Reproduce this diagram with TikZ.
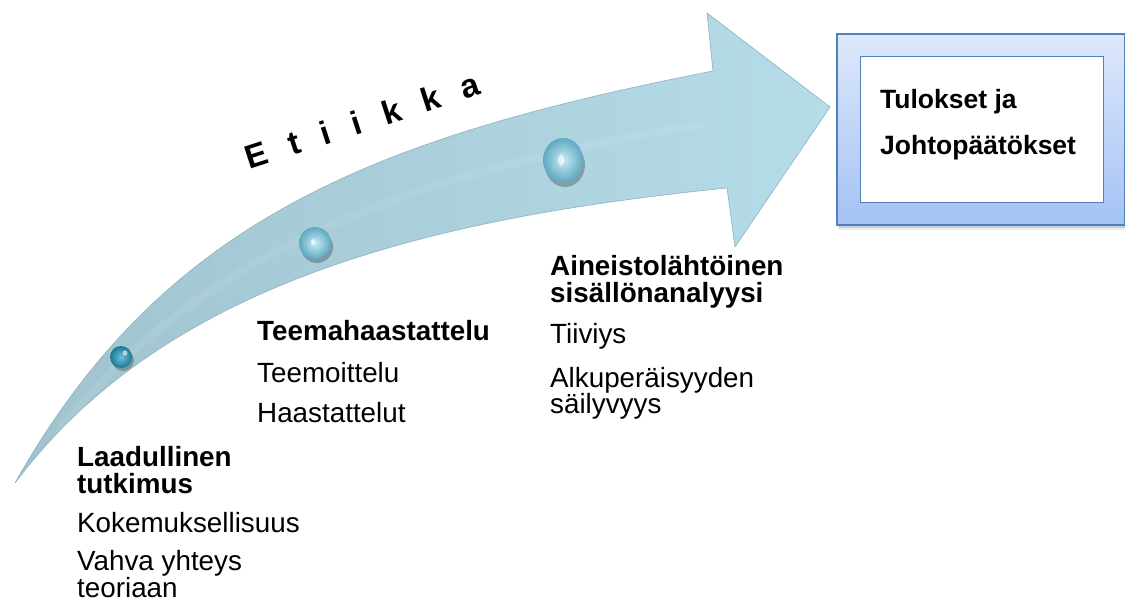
\documentclass[tikz,border=0pt]{standalone}
\usepackage{fontspec}
\setmainfont{Liberation Sans}
\definecolor{arrowL}{HTML}{A0C3CE}
\definecolor{arrowM}{HTML}{ABD1DE}
\definecolor{arrowR}{HTML}{B5DCE9}
\definecolor{arrowEdge}{HTML}{8DB2BF}
\definecolor{boxblue}{HTML}{4F81BD}
\definecolor{boxtop}{HTML}{DEE8FB}
\definecolor{boxbot}{HTML}{A4C2F4}
\definecolor{dotdarkin}{HTML}{6CC3D9}
\definecolor{dotdarkout}{HTML}{1A7890}
\definecolor{dotlightin}{HTML}{C8EBF5}
\definecolor{dotlightout}{HTML}{5EA9C1}
\begin{document}
\begin{tikzpicture}[x=1pt,y=-1pt,
  bodytext/.style={anchor=base west, inner sep=0pt, font=\fontsize{27.8}{30}\selectfont},
  headtext/.style={anchor=base west, inner sep=0pt, font=\fontsize{27.8}{30}\selectfont\bfseries},
  boxtext/.style={anchor=base west, inner sep=0pt, font=\fontsize{26.5}{30}\selectfont\bfseries},
  dotshadow/.style={fill=black, opacity=0.25},
]
\useasboundingbox (0,0) rectangle (1125,608);

% ---------- curved arrow ----------
\coordinate (tail) at (15,483);
\coordinate (ju) at (713,71);
\coordinate (ht) at (707,13);
\coordinate (tip) at (830,107);
\coordinate (hb) at (735,247);
\coordinate (jl) at (727,188);
\path[left color=arrowL, middle color=arrowM, right color=arrowR, draw=arrowEdge, line width=0.6pt, line join=round]
  (tail) .. controls (162,222) and (370,138) .. (ju) -- (ht) -- (tip) -- (hb) -- (jl)
  .. controls (429,218) and (165,283) .. (tail) -- cycle;
% subtle highlight along the shaft
\draw[white, opacity=0.08, line width=8pt, line cap=round]
  (60,430) .. controls (200,250) and (420,170) .. (700,125);

% ---------- Etiikka ----------
\node[name=etiikka, anchor=base, inner sep=0pt, rotate=18,
      font=\fontsize{33}{33}\selectfont\bfseries] at (366,132)
  {E\hspace{23pt}t\hspace{23pt}i\hspace{23pt}i\hspace{23pt}k\hspace{23pt}k\hspace{23pt}a};

% ---------- dots ----------
\fill[dotshadow] (123,360) circle [radius=11pt];
\shade[inner color=dotdarkin, outer color=dotdarkout] (121,357) circle [radius=11pt];
\fill[white, opacity=0.6] (125,353) circle [radius=2.5pt];
\fill[dotshadow] (317,247) circle [radius=16pt];
\shade[inner color=dotlightin, outer color=dotlightout] (315,243) circle [radius=16pt];
\fill[white, opacity=0.7] (313,242) ellipse [x radius=2pt, y radius=3pt];
\fill[dotshadow] (565,165) ellipse [x radius=20pt, y radius=22pt];
\shade[inner color=dotlightin, outer color=dotlightout] (563,160) ellipse [x radius=20pt, y radius=22pt];
\fill[white, opacity=0.6] (561,160) ellipse [x radius=3pt, y radius=6pt];

% ---------- result box ----------
\fill[black, opacity=0.08] (838,36) rectangle (1128,230);
\fill[black, opacity=0.12] (839,36) rectangle (1127,228);
\node[name=outerbox, draw=boxblue, line width=1.5pt, top color=boxtop, bottom color=boxbot,
      minimum width=288pt, minimum height=191pt, anchor=north west, inner sep=0pt] at (836,33) {};
\node[name=innerbox, draw=boxblue, line width=1.3pt, fill=white,
      minimum width=243pt, minimum height=146pt, anchor=north west, inner sep=0pt] at (860,56) {};
\node[boxtext, name=t1] at (880,108) {Tulokset ja};
\node[boxtext, name=t2] at (880,154) {Johtopäätökset};

% ---------- stage texts ----------
\node[headtext, name=a1] at (77,466) {Laadullinen};
\node[headtext, name=a2] at (77,493) {tutkimus};
\node[bodytext, name=a3] at (77,532) {Kokemuksellisuus};
\node[bodytext, name=a4] at (77,570) {Vahva yhteys};
\node[bodytext, name=a5] at (77,597) {teoriaan};

\node[headtext, name=b1] at (257,340) {Teemahaastattelu};
\node[bodytext, name=b2] at (257,382) {Teemoittelu};
\node[bodytext, name=b3] at (257,422) {Haastattelut};

\node[headtext, name=c1] at (550,275) {Aineistolähtöinen};
\node[headtext, name=c2] at (550,302) {sisällönanalyysi};
\node[bodytext, name=c3] at (550,343) {Tiiviys};
\node[bodytext, name=c4] at (550,387) {Alkuperäisyyden};
\node[bodytext, name=c5] at (550,413) {säilyvyys};
\end{tikzpicture}
\end{document}
